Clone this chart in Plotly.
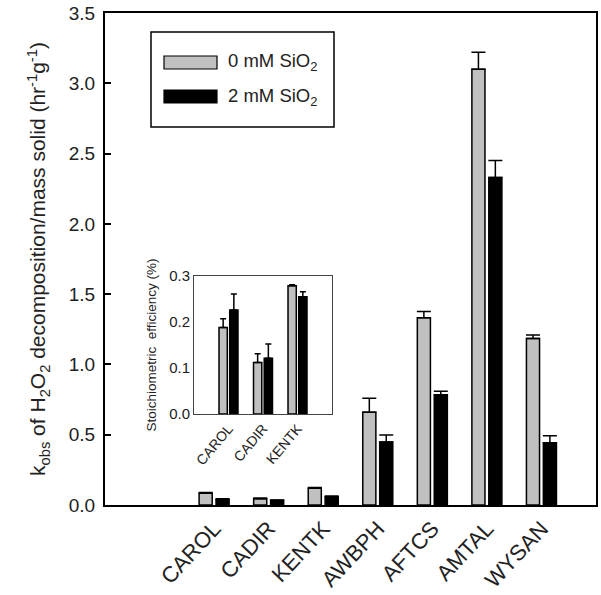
import plotly.graph_objects as go

categories = ["CAROL", "CADIR", "KENTK", "AWBPH", "AFTCS", "AMTAL", "WYSAN"]
k_0mM = [0.083, 0.045, 0.119, 0.66, 1.332, 3.10, 1.185]
k_0mM_err = [0.006, 0.004, 0.006, 0.10, 0.045, 0.12, 0.025]
k_2mM = [0.040, 0.033, 0.059, 0.448, 0.785, 2.33, 0.443]
k_2mM_err = [0.004, 0.003, 0.005, 0.05, 0.025, 0.12, 0.05]

inset_categories = ["CAROL", "CADIR", "KENTK"]
eff_0mM = [0.188, 0.112, 0.279]
eff_0mM_err = [0.019, 0.019, 0.002]
eff_2mM = [0.226, 0.121, 0.255]
eff_2mM_err = [0.035, 0.031, 0.011]

series_names = ["0 mM SiO<sub>2</sub>", "2 mM SiO<sub>2</sub>"]
colors = ["#c0c0c0", "#000000"]

FONT = "Liberation Sans, Arial, sans-serif"

fig = go.Figure()

def add_bars(x, y, err, color, name, offset, xa, ya, capw):
    fig.add_trace(go.Bar(
        x=x, y=y, name=name, width=0.24, offset=offset,
        marker=dict(color=color, line=dict(color="black", width=1.5)),
        error_y=dict(type="data", symmetric=False, array=err,
                     arrayminus=[0] * len(err), color="black",
                     thickness=1.5, width=capw),
        xaxis=xa, yaxis=ya, showlegend=False,
    ))

add_bars(categories, k_0mM, k_0mM_err, colors[0], series_names[0], -0.275, "x", "y", 7)
add_bars(categories, k_2mM, k_2mM_err, colors[1], series_names[1], 0.035, "x", "y", 7)
add_bars(inset_categories, eff_0mM, eff_0mM_err, colors[0], series_names[0], -0.275, "x2", "y2", 3)
add_bars(inset_categories, eff_2mM, eff_2mM_err, colors[1], series_names[1], 0.035, "x2", "y2", 3)

W, H = 601, 595
px0, px1, py0, py1 = 105, 596, 13, 505   # plot area in picture pixels
def fx(p):
    return (p - px0) / (px1 - px0)
def fy(p):
    return (py1 - p) / (py1 - py0)

shapes = [
    dict(type="rect", xref="paper", yref="paper", x0=fx(151), x1=fx(334),
         y0=fy(127), y1=fy(32), line=dict(color="black", width=1.5), fillcolor="white"),
    dict(type="rect", xref="paper", yref="paper", x0=fx(164), x1=fx(217),
         y0=fy(69), y1=fy(56), line=dict(color="black", width=1.2), fillcolor=colors[0]),
    dict(type="rect", xref="paper", yref="paper", x0=fx(164), x1=fx(217),
         y0=fy(103), y1=fy(90), line=dict(color="black", width=1.2), fillcolor=colors[1]),
]
annotations = [
    dict(xref="paper", yref="paper", x=fx(226), y=fy(62), xanchor="left", yanchor="middle",
         text=series_names[0], showarrow=False, font=dict(size=18.5, color="#222", family=FONT)),
    dict(xref="paper", yref="paper", x=fx(226), y=fy(97), xanchor="left", yanchor="middle",
         text=series_names[1], showarrow=False, font=dict(size=18.5, color="#222", family=FONT)),
]

fig.update_layout(
    width=W, height=H,
    margin=dict(l=px0, r=W - px1, t=py0, b=H - py1),
    paper_bgcolor="white", plot_bgcolor="white",
    font=dict(family=FONT, color="#222"),
    barmode="overlay",
    shapes=shapes, annotations=annotations,
    xaxis=dict(
        type="category", categoryarray=categories, range=[-2, 7],
        showline=True, linecolor="black", linewidth=2, mirror=True,
        ticks="", tickangle=-47, tickfont=dict(size=22, color="#222"),
        showgrid=False, zeroline=False, automargin=False,
    ),
    yaxis=dict(
        range=[0, 3.5], tickvals=[0, 0.5, 1.0, 1.5, 2.0, 2.5, 3.0, 3.5],
        tickformat=".1f", ticklabeloverflow="allow",
        showline=True, linecolor="black", linewidth=2, mirror=True,
        ticks="inside", ticklen=6, tickwidth=1.5, tickcolor="black",
        tickfont=dict(size=19, color="#222"), ticklabelstandoff=4,
        showgrid=False, zeroline=False, automargin=False,
        title=dict(text="k<sub>obs</sub> of H<sub>2</sub>O<sub>2</sub> decomposition/mass solid (hr<sup>-1</sup>g<sup>-1</sup>)",
                   font=dict(size=21, color="#222"), standoff=17),
    ),
    xaxis2=dict(
        type="category", categoryarray=inset_categories, range=[-1, 3],
        domain=[fx(194), fx(332)], anchor="y2",
        showline=True, linecolor="#444", linewidth=1, mirror=True,
        ticks="", tickangle=-50, tickfont=dict(size=14, color="#222"),
        showgrid=False, zeroline=False, automargin=False,
    ),
    yaxis2=dict(
        range=[0, 0.3], tickvals=[0, 0.1, 0.2, 0.3], tickformat=".1f",
        domain=[fy(414), fy(276)], anchor="x2",
        showline=True, linecolor="#444", linewidth=1, mirror=True,
        ticks="", tickfont=dict(size=15, color="#222"),
        showgrid=False, zeroline=False, automargin=False,
        title=dict(text="Stoichiometric  efficiency (%)", font=dict(size=13.5, color="#222"), standoff=9),
    ),
)

fig.write_html("out.html", config={"displayModeBar": False},
               post_script="document.body.style.margin='0';document.body.style.overflow='hidden';")
